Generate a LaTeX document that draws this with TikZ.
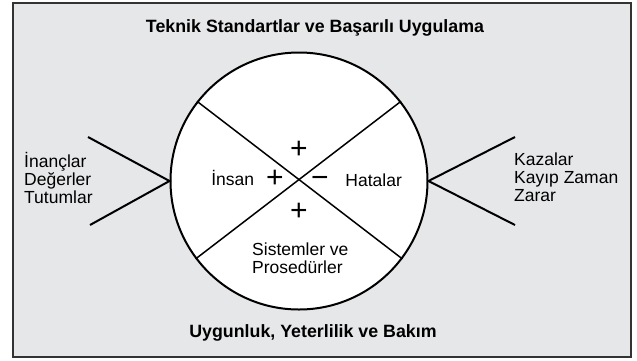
\documentclass[tikz,border=0pt]{standalone}
\usepackage{fontspec}
\setmainfont{Liberation Sans}
\definecolor{bggray}{HTML}{E6E7E9}
\definecolor{framegray}{HTML}{333333}
\begin{document}
\begin{tikzpicture}[x=1pt,y=-1pt,
  frame/.style={draw=framegray,fill=bggray,line width=1.6pt},
  disc/.style={circle,draw=black,fill=white,line width=2pt,minimum size=257pt,inner sep=0pt},
  divider/.style={draw=black,line width=1.5pt},
  vline/.style={draw=black,line width=2pt},
  lbl/.style={inner sep=0pt,font=\fontsize{17.5}{18}\selectfont},
  sidelbl/.style={lbl,align=left,anchor=west},
  headlbl/.style={inner sep=0pt,font=\bfseries\fontsize{17.8}{18}\selectfont},
  sign/.style={inner sep=0pt,font=\fontsize{30}{30}\selectfont}]
\useasboundingbox (0,0) rectangle (637,360);
\path[frame] (13,3) rectangle (631,357);
\node[disc] (c) at (299,181) {};
\draw[divider] (c.142) -- (c.-37);
\draw[divider] (c.38) -- (c.217);
\coordinate (lu) at (88,137);
\coordinate (ll) at (90,225);
\coordinate (ru) at (515,137);
\coordinate (rl) at (515,225);
\draw[vline] (lu) -- (c.west) -- (ll);
\draw[vline] (ru) -- (c.east) -- (rl);
\node[headlbl] (title) at (315,28) {Teknik Standartlar ve Başarılı Uygulama};
\node[headlbl] (bottom) at (313,333) {Uygunluk, Yeterlilik ve Bakım};
\node[sidelbl] (left) at (24,177.5) {İnançlar\\Değerler\\Tutumlar};
\node[sidelbl] (right) at (514,177.5) {Kazalar\\Kayıp Zaman\\Zarar};
\node[lbl] (insan) at (232.7,178) {İnsan};
\node[lbl] (hata) at (373.7,180) {Hatalar};
\node[lbl,align=left,anchor=west] (sis) at (252,258.5) {Sistemler ve\\Prosedürler};
\node[sign] (ptop) at (299,150) {+};
\node[sign] (pleft) at (275,179.3) {+};
\node[sign] (pbot) at (299,212.3) {+};
\node[sign] (minus) at (320,181.7) {−};
\end{tikzpicture}
\end{document}
